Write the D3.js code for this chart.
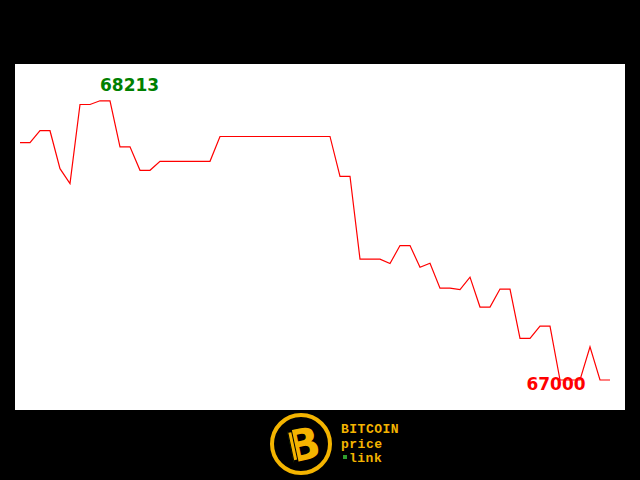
<!DOCTYPE html>
<html>
<head>
<meta charset="utf-8">
<script src="https://cdn.jsdelivr.net/npm/d3@7"></script>
<style>
html,body{margin:0;padding:0;background:#000;}
svg{display:block;}
</style>
</head>
<body>
<svg id="chart" width="640" height="480"></svg>
<script>
// Price series (one point per step, left to right)
const prices = [
  68031, 68031, 68083, 68083, 67918, 67853, 68197, 68197, 68213, 68213,
  68013, 68013, 67911, 67911, 67950, 67950, 67950, 67950, 67950, 67950,
  68058, 68058, 68058, 68058, 68058, 68058, 68058, 68058, 68058, 68058,
  68058, 68058, 67885, 67885, 67525, 67525, 67525, 67506, 67584, 67584,
  67490, 67507, 67399, 67399, 67393, 67447, 67317, 67317, 67395, 67395,
  67181, 67181, 67234, 67234, 67000, 67000, 67000, 67144, 67000, 67000
];
const logoLines = ["BITCOIN", "price", "link"];

const svg = d3.select("#chart");
svg.append("rect").attr("x",0).attr("y",0).attr("width",640).attr("height",480).attr("fill","#000");
svg.append("rect").attr("x",15).attr("y",64).attr("width",610).attr("height",346).attr("fill","#fff");

const x = d3.scaleLinear().domain([0, prices.length - 1]).range([20, 610]);
const minV = d3.min(prices), maxV = d3.max(prices);
const y = d3.scaleLinear().domain([minV, maxV]).range([380, 100.8]);

const line = d3.line().x((d,i)=>x(i)).y(d=>y(d));
svg.append("path").datum(prices)
  .attr("d", line).attr("fill","none").attr("stroke","#ff0000").attr("stroke-width",1.2);

const maxI = prices.indexOf(maxV), minI = prices.indexOf(minV);
svg.append("text").attr("x", x(maxI)).attr("y", y(maxV) - 10)
  .attr("text-anchor","start").attr("font-family","DejaVu Sans").attr("font-weight","bold")
  .attr("font-size",17).attr("fill","#008000").text(maxV);
svg.append("text").attr("x", x(minI) - 4).attr("y", y(minV) + 10)
  .attr("text-anchor","middle").attr("font-family","DejaVu Sans").attr("font-weight","bold")
  .attr("font-size",17).attr("fill","#ff0000").text(minV);

// Logo
const gold = "#f4b400";
const lg = svg.append("g");
lg.append("circle").attr("cx",301).attr("cy",444).attr("r",29).attr("fill","#000")
  .attr("stroke",gold).attr("stroke-width",4);
lg.append("text").attr("x",303).attr("y",460).attr("text-anchor","middle")
  .attr("font-family","DejaVu Sans").attr("font-weight","bold").attr("font-size",44)
  .attr("fill",gold).attr("transform","rotate(-12,303,444)").text("B");
lg.append("rect").attr("x",290).attr("y",427).attr("width",5).attr("height",34).attr("fill","#000")
  .attr("transform","rotate(-12,303,444)");
lg.append("rect").attr("x",291).attr("y",430).attr("width",3).attr("height",28).attr("fill",gold)
  .attr("transform","rotate(-12,303,444)");
logoLines.forEach((t,i)=>{
  lg.append("text").attr("x", i===2 ? 349 : 341).attr("y", 433 + i*14.5)
    .attr("font-family","Liberation Mono").attr("font-weight","bold").attr("font-size",13)
    .attr("letter-spacing",0.5).attr("fill",gold).text(t);
});
lg.append("rect").attr("x",343).attr("y",455).attr("width",4).attr("height",4).attr("fill","#2e9e2e");
</script>
</body>
</html>
